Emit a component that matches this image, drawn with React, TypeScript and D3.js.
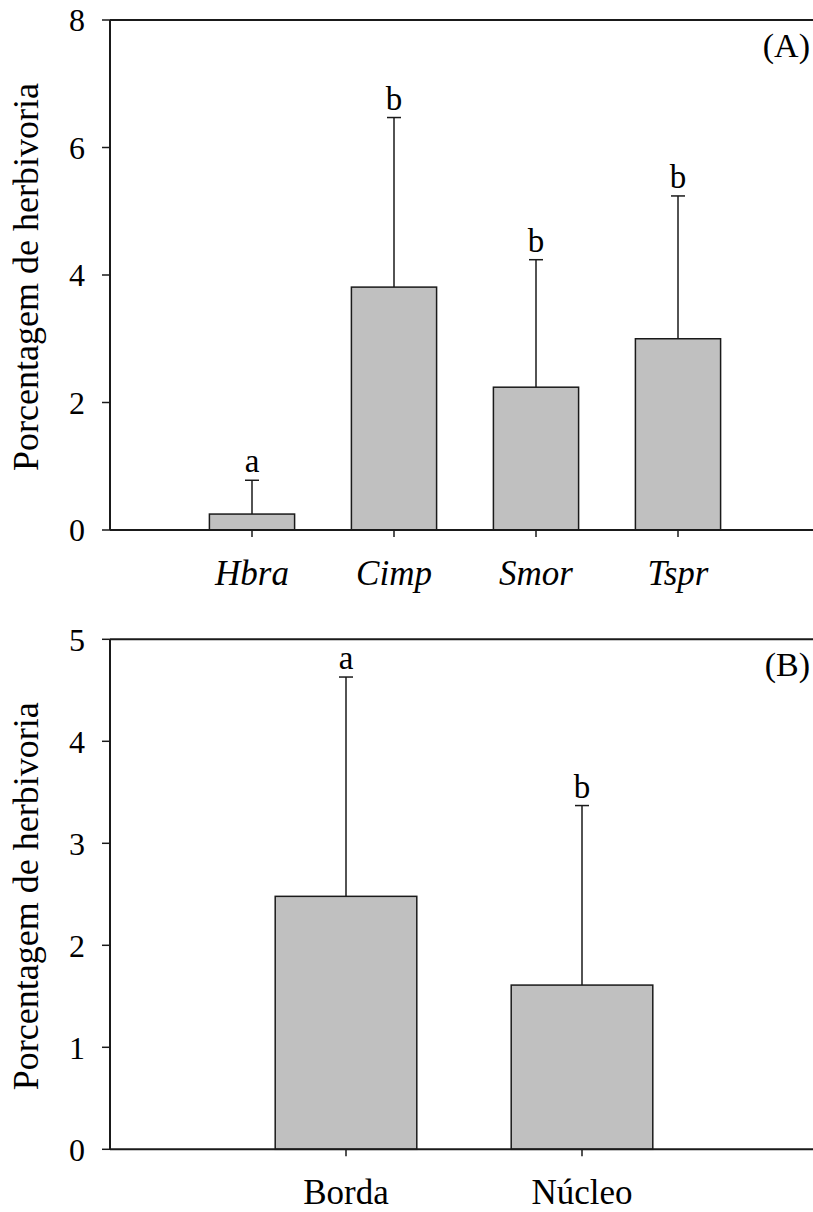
import React from "react";
import * as d3 from "d3";

const catsA = ["Hbra", "Cimp", "Smor", "Tspr"];
const meansA = [0.25, 3.81, 2.24, 3.0];
const errsA = [0.53, 2.66, 2.0, 2.24];
const lettersA = ["a", "b", "b", "b"];
const ticksA = [0, 2, 4, 6, 8];

const catsB = ["Borda", "Núcleo"];
const meansB = [2.48, 1.61];
const errsB = [2.15, 1.76];
const lettersB = ["a", "b"];
const ticksB = [0, 1, 2, 3, 4, 5];

const FONT = '"Liberation Serif", "Times New Roman", serif';
const W = 813;
const H = 1212;

type PanelProps = {
  cats: string[];
  means: number[];
  errs: number[];
  letters: string[];
  ticks: number[];
  yMax: number;
  top: number;
  bottom: number;
  label: string;
  italic: boolean;
};

function Panel(p: PanelProps) {
  const left = 110;
  const n = p.cats.length;
  const slot = n === 4 ? 142 : 236;
  const x = d3.scaleLinear().domain([0, n + 1]).range([left, left + slot * (n + 1)]);
  const y = d3.scaleLinear().domain([0, p.yMax]).range([p.bottom, p.top]);
  const bw = slot * 0.6;
  const cap = 14;
  const ts = { fontFamily: FONT };
  return (
    <g fill="#000">
      <text
        transform={`translate(38,${(p.top + p.bottom) / 2 + 2}) rotate(-90)`}
        textAnchor="middle"
        fontSize={36}
        style={ts}
      >
        Porcentagem de herbivoria
      </text>
      {p.cats.map((c, i) => {
        const cx = x(i + 1);
        const yt = y(p.means[i]);
        const ye = y(p.means[i] + p.errs[i]);
        return (
          <g key={c}>
            <line x1={cx} x2={cx} y1={yt} y2={ye} stroke="#1a1a1a" strokeWidth={1.5} />
            <line x1={cx - cap / 2} x2={cx + cap / 2} y1={ye} y2={ye} stroke="#1a1a1a" strokeWidth={1.5} />
            <rect
              x={cx - bw / 2}
              y={yt}
              width={bw}
              height={p.bottom - yt}
              fill="#c0c0c0"
              stroke="#1a1a1a"
              strokeWidth={1.5}
            />
            <text x={cx} y={ye - 8} textAnchor="middle" fontSize={33} style={ts}>
              {p.letters[i]}
            </text>
            <line x1={cx} x2={cx} y1={p.bottom} y2={p.bottom + 7} stroke="#1a1a1a" strokeWidth={1.5} />
            <text
              x={cx}
              y={p.bottom + 55}
              textAnchor="middle"
              fontSize={35}
              fontStyle={p.italic ? "italic" : "normal"}
              style={ts}
            >
              {c}
            </text>
          </g>
        );
      })}
      <line x1={left} x2={W} y1={p.top} y2={p.top} stroke="#1a1a1a" strokeWidth={2} />
      <line x1={left} x2={W} y1={p.bottom} y2={p.bottom} stroke="#1a1a1a" strokeWidth={2} />
      <line x1={left} x2={left} y1={p.top} y2={p.bottom} stroke="#1a1a1a" strokeWidth={2} />
      {p.ticks.map((t) => (
        <g key={t}>
          <line x1={left - 8} x2={left} y1={y(t)} y2={y(t)} stroke="#1a1a1a" strokeWidth={1.5} />
          <text x={85} y={y(t)} dy="0.35em" textAnchor="end" fontSize={32} style={ts}>
            {t}
          </text>
        </g>
      ))}
      <text x={810} y={p.top + 37} textAnchor="end" fontSize={34} style={ts}>
        {p.label}
      </text>
    </g>
  );
}

export default function App() {
  return (
    <svg
      width={W}
      height={H}
      viewBox={`0 0 ${W} ${H}`}
      style={{ position: "absolute", left: 0, top: 0, background: "#fff" }}
    >
      <rect width={W} height={H} fill="#fff" />
      <Panel
        cats={catsA}
        means={meansA}
        errs={errsA}
        letters={lettersA}
        ticks={ticksA}
        yMax={8}
        top={20}
        bottom={530}
        label="(A)"
        italic={true}
      />
      <Panel
        cats={catsB}
        means={meansB}
        errs={errsB}
        letters={lettersB}
        ticks={ticksB}
        yMax={5}
        top={639.3}
        bottom={1149.3}
        label="(B)"
        italic={false}
      />
    </svg>
  );
}
